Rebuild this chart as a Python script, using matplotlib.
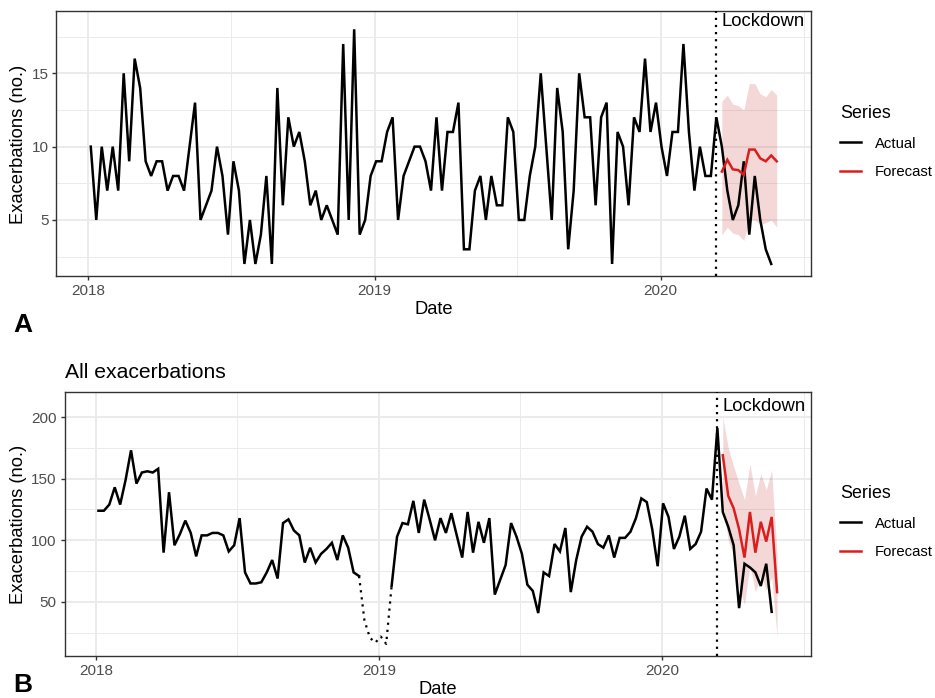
import numpy as np
import pandas as pd
import matplotlib
matplotlib.use("Agg")
import matplotlib.pyplot as plt
import matplotlib.dates as mdates
from matplotlib.ticker import MultipleLocator, FixedLocator
from matplotlib.lines import Line2D

plt.rcParams['font.family'] = ['Liberation Sans', 'DejaVu Sans']

# weekly counts, forecast weeks start the week after lockdown
weeks = pd.date_range("2018-01-04", periods=125, freq="7D")
fc_weeks = pd.date_range("2020-03-19", periods=11, freq="7D")
lockdown = pd.Timestamp("2020-03-11")

# panel A
a_actual = [10, 5, 10, 7, 10, 7, 15, 9, 16, 14, 9, 8, 9, 9, 7, 8, 8, 7, 10, 13,
            5, 6, 7, 10, 8, 4, 9, 7, 2, 5, 2, 4, 8, 2, 14, 6, 12, 10, 11, 9,
            6, 7, 5, 6, 5, 4, 17, 5, 18, 4, 5, 8, 9, 9, 11, 12, 5, 8, 9, 10,
            10, 9, 7, 12, 7, 11, 11, 13, 3, 3, 7, 8, 5, 8, 6, 6, 12, 11, 5, 5,
            8, 10, 15, 10, 5, 14, 11, 3, 7, 15, 12, 12, 6, 12, 13, 2, 11, 10, 6, 12,
            11, 16, 11, 13, 10, 8, 11, 11, 17, 11, 7, 10, 8, 8, 12,
            10, 7, 5, 6, 9, 4, 8, 5, 3, 2]
a_fc = [8.3, 9.1, 8.45, 8.4, 8.07, 9.8, 9.8, 9.2, 9.0, 9.4, 9.0]
a_lo = [4.0, 4.5, 4.1, 4.0, 3.6, 5.0, 5.0, 4.7, 4.8, 5.0, 4.5]
a_hi = [13.1, 13.5, 12.9, 12.8, 12.5, 14.3, 14.3, 13.6, 13.4, 13.9, 13.5]

# panel B (weeks 49-53 are the holiday gap, drawn dotted)
b_actual = [124, 124, 129, 143, 129, 149, 173, 146, 155, 156, 155, 158, 90, 139, 96,
            105, 116, 106, 87, 104, 104, 106, 106, 104, 91, 96, 118, 74, 65, 65,
            66, 74, 84, 69, 114, 117, 108, 104, 82, 94, 82, 89, 93, 98, 84,
            104, 94, 74, 71, 35, 21, 17, 22, 16,
            63, 103, 114, 113, 132, 106, 133, 117, 100, 118, 106, 122, 104, 86, 123,
            90, 115, 98, 118, 56, 68, 80, 114, 103, 89, 64, 59, 41, 74, 71, 97, 91,
            110, 58,
            84, 103, 111, 107, 97, 94, 104, 86, 102, 102, 107, 118, 134, 131, 109,
            79, 130, 119, 93, 103, 120, 93, 97, 107, 142, 133, 191,
            123, 111, 96, 45, 81, 78, 74, 63, 81, 42]
b_gap = (48, 54)
b_fc = [169, 136, 126, 109, 86, 123, 90, 115, 99, 119, 58]
b_lo = [130, 100, 88, 62, 48, 80, 58, 72, 60, 70, 22]
b_hi = [200, 175, 160, 146, 133, 162, 136, 154, 141, 157, 88]

RED = "#DA1E1E"
GRID = "#EBEBEB"
TICK_FS = 11
TITLE_FS = 13.2

fig = plt.figure(figsize=(9.35, 6.98), dpi=100)
ax_a = fig.add_axes([0.0604, 0.6046, 0.807, 0.3797])
ax_b = fig.add_axes([0.069, 0.0602, 0.7984, 0.3775])

span = fc_weeks[-1] - weeks[0]
xlim = (weeks[0] - 0.05 * span, fc_weeks[-1] + 0.05 * span)
minor_x = mdates.date2num(pd.to_datetime(["2017-07-02", "2018-07-02", "2019-07-02", "2020-07-02"]))


def draw_panel(ax, actual, fc, lo, hi, ylim, major, label_y, gap=None):
    actual = np.array(actual, dtype=float)
    ax.fill_between(fc_weeks, lo, hi, color="#C84040", alpha=0.2, lw=0, zorder=2)
    solid = actual.copy()
    if gap is not None:
        solid[gap[0] + 1:gap[1]] = np.nan
        ax.plot(weeks[gap[0]:gap[1] + 1], actual[gap[0]:gap[1] + 1], color="black",
                lw=1.6, ls=(0, (1, 2.2)), zorder=3)
    ax.plot(weeks, solid, color="black", lw=1.8, zorder=3, solid_joinstyle="miter")
    ax.plot(fc_weeks, fc, color=RED, lw=1.8, zorder=3, solid_joinstyle="miter")
    ax.axvline(lockdown, color="black", lw=1.6, ls=(0, (1, 2.2)), zorder=4)
    ax.text(lockdown + pd.Timedelta(days=8), label_y, "Lockdown", fontsize=13.3,
            ha="left", va="center", zorder=5)

    ax.set_xlim(xlim)
    ax.set_ylim(ylim)
    ax.xaxis.set_major_locator(mdates.YearLocator())
    ax.xaxis.set_major_formatter(mdates.DateFormatter("%Y"))
    ax.xaxis.set_minor_locator(FixedLocator(minor_x))
    ax.yaxis.set_major_locator(MultipleLocator(major))
    ax.yaxis.set_minor_locator(MultipleLocator(major / 2))

    ax.grid(which="major", color=GRID, lw=1.4, zorder=0)
    ax.grid(which="minor", color=GRID, lw=0.7, zorder=0)
    ax.set_axisbelow(True)
    for s in ax.spines.values():
        s.set_color("#333333")
        s.set_linewidth(1.0)
    ax.tick_params(which="major", length=3.2, width=1.0, color="#333333",
                   labelsize=TICK_FS, labelcolor="#4D4D4D", pad=2.5)
    ax.tick_params(which="minor", length=0)


draw_panel(ax_a, a_actual, a_fc, a_lo, a_hi, (1.18, 19.25), 5, 18.5)
draw_panel(ax_b, b_actual, b_fc, b_lo, b_hi, (6.2, 219.9), 50, 208.6, gap=b_gap)

# axis titles and panel tags
for yc in (1 - 144 / 698, 1 - 524 / 698):
    fig.text(19 / 935, yc, "Exacerbations (no.)", rotation=90, ha="center",
             va="center", fontsize=TITLE_FS)
fig.text(434 / 935, 1 - 310 / 698, "Date", ha="center", va="center", fontsize=TITLE_FS)
fig.text(438 / 935, 1 - 689 / 698, "Date", ha="center", va="center", fontsize=TITLE_FS)
fig.text(65 / 935, 1 - 372 / 698, "All exacerbations", ha="left", va="center",
         fontsize=15.2)
fig.text(23 / 935, 1 - 325 / 698, "A", ha="center", va="center", fontsize=19,
         fontweight="bold")
fig.text(23 / 935, 1 - 685 / 698, "B", ha="center", va="center", fontsize=19,
         fontweight="bold")

handles = [Line2D([], [], color="black", lw=1.8), Line2D([], [], color=RED, lw=1.8)]
for yc in (1 - 142 / 698, 1 - 522 / 698):
    leg = fig.legend(handles, ["Actual", "Forecast"], title="Series",
                     loc="center left", bbox_to_anchor=(840 / 935, yc),
                     frameon=False, fontsize=10.7, title_fontsize=12.9,
                     handlelength=1.4, handletextpad=0.95, labelspacing=1.0,
                     borderpad=0, borderaxespad=0, alignment="left")

fig.savefig("out.png", dpi=100)
